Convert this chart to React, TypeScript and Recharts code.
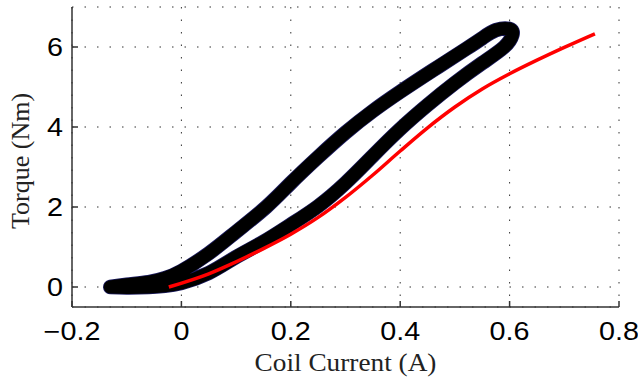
import { LineChart, Line, XAxis, YAxis, CartesianGrid, Label } from "recharts";

// measured loop, rising current (lower branch)
const lowerCurrent = [-0.13, -0.1, -0.06, -0.03, 0.0, 0.05, 0.1, 0.15, 0.2, 0.25, 0.3, 0.35, 0.4, 0.45, 0.5, 0.55, 0.59, 0.605];
const lowerTorque = [0.0, -0.01, 0.0, 0.03, 0.1, 0.35, 0.75, 1.13, 1.56, 2.02, 2.6, 3.28, 3.95, 4.55, 5.1, 5.6, 6.0, 6.3];

// measured loop, falling current (upper branch)
const upperCurrent = [0.6, 0.575, 0.55, 0.52, 0.46, 0.4, 0.35, 0.3, 0.25, 0.2, 0.155, 0.1, 0.05, 0.0, -0.03, -0.06, -0.1, -0.13];
const upperTorque = [6.45, 6.42, 6.22, 5.95, 5.42, 4.88, 4.4, 3.86, 3.25, 2.6, 2.0, 1.38, 0.84, 0.4, 0.22, 0.12, 0.06, 0.0];

// model curve (red)
const modelCurrent = [-0.023, 0.05, 0.1, 0.15, 0.2, 0.25, 0.3, 0.35, 0.4, 0.45, 0.5, 0.55, 0.6, 0.65, 0.7, 0.756];
const modelTorque = [0.0, 0.33, 0.63, 0.96, 1.32, 1.74, 2.24, 2.8, 3.4, 3.98, 4.5, 4.95, 5.33, 5.67, 5.99, 6.33];

const xTicks = [-0.2, 0, 0.2, 0.4, 0.6, 0.8];
const yTicks = [0, 2, 4, 6];

const loopData = [
  ...lowerCurrent.map((x, i) => ({ x, y: lowerTorque[i] })),
  ...upperCurrent.map((x, i) => ({ x, y: upperTorque[i] })),
];
const modelData = modelCurrent.map((x, i) => ({ x, y: modelTorque[i] }));

const fmt = (v: number) => (v < 0 ? "\u2212" + Math.abs(v) : String(v));

const tickFont = { fontFamily: "'Liberation Sans', Arial, sans-serif", fontSize: 25, fill: "#000" };
const labelFont = { fontFamily: "'Liberation Serif', 'Times New Roman', serif", fontSize: 26, fill: "#222" };

const XTick = ({ x, y, payload }: any) => (
  <g transform={`translate(${x},${y})`}>
    <text transform="scale(1.15,1)" textAnchor="middle" dy="0.71em" {...tickFont}>
      {fmt(payload.value)}
    </text>
  </g>
);

const YTick = ({ x, y, payload }: any) => (
  <g transform={`translate(${x},${y})`}>
    <text transform="scale(1.15,1)" textAnchor="end" dy="0.355em" {...tickFont}>
      {fmt(payload.value)}
    </text>
  </g>
);

export default function App() {
  return (
    <div style={{ position: "absolute", left: 0, top: 0, background: "#fff" }}>
      <LineChart width={638} height={379} margin={{ top: 7, right: 19, bottom: 0, left: 0 }}>
        <CartesianGrid stroke="#333" strokeDasharray="1.5 11" />
        <XAxis
          type="number"
          dataKey="x"
          domain={[-0.2, 0.8]}
          ticks={xTicks}
          height={72}
          tickSize={-6}
          tickMargin={21}
          tick={<XTick />}
          stroke="#333"
          strokeWidth={1.5}
          allowDataOverflow
        >
          <Label
            content={({ viewBox }: any) => (
              <g transform={`translate(${viewBox.x + viewBox.width / 2},${viewBox.y + 64})`}>
                <text transform="scale(1.05,1)" textAnchor="middle" {...labelFont}>
                  Coil Current (A)
                </text>
              </g>
            )}
          />
        </XAxis>
        <YAxis
          type="number"
          dataKey="y"
          domain={[-0.5, 7]}
          ticks={yTicks}
          width={72}
          tickSize={-6}
          tickMargin={15}
          tick={<YTick />}
          stroke="#333"
          strokeWidth={1.5}
          allowDataOverflow
        >
          <Label
            content={({ viewBox }: any) => (
              <text
                transform={`translate(${viewBox.x + 29},${viewBox.y + viewBox.height / 2 + 4}) rotate(-90)`}
                textAnchor="middle"
                {...labelFont}
              >
                Torque (Nm)
              </text>
            )}
          />
        </YAxis>
        <Line
          data={loopData}
          dataKey="y"
          type="natural"
          stroke="#1c1c60"
          strokeWidth={14.5}
          strokeLinejoin="round"
          strokeLinecap="round"
          dot={false}
          activeDot={false}
          isAnimationActive={false}
        />
        <Line
          data={loopData}
          dataKey="y"
          type="natural"
          stroke="#000"
          strokeWidth={13}
          strokeLinejoin="round"
          strokeLinecap="round"
          dot={false}
          activeDot={false}
          isAnimationActive={false}
        />
        <Line
          data={modelData}
          dataKey="y"
          type="monotone"
          stroke="#ff0000"
          strokeWidth={3.5}
          dot={false}
          activeDot={false}
          isAnimationActive={false}
        />
      </LineChart>
    </div>
  );
}
